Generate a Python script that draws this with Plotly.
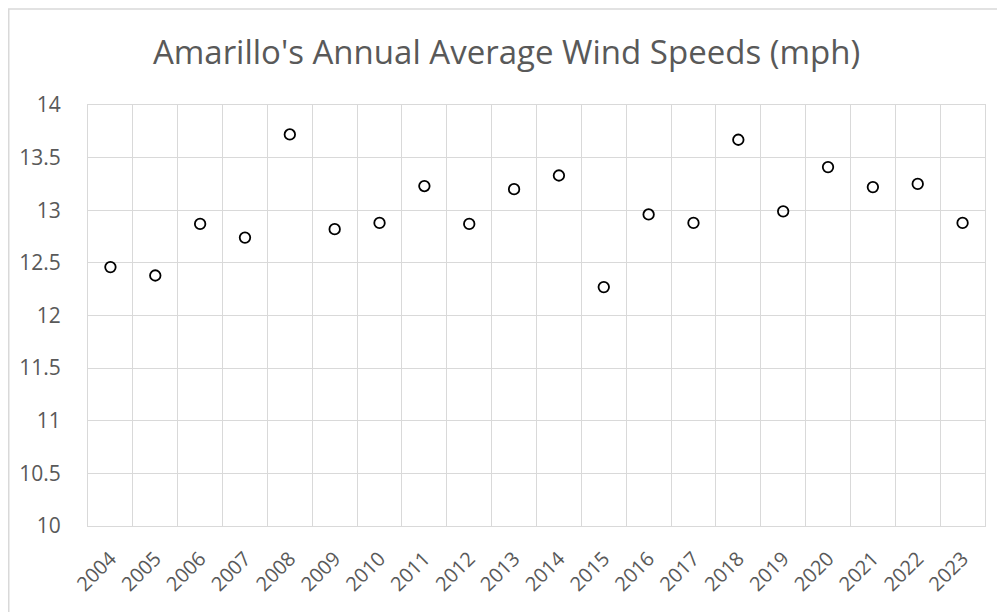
import plotly.graph_objects as go

years = [str(y) for y in range(2004, 2024)]
wind_mph = [12.46, 12.38, 12.87, 12.74, 13.72, 12.82, 12.88, 13.23, 12.87, 13.20,
            13.33, 12.27, 12.96, 12.88, 13.67, 12.99, 13.41, 13.22, 13.25, 12.88]

grid = "#d9d9d9"
text_col = "#595959"
font_fam = "'Open Sans', sans-serif"

# the page body has an 8px margin, so the figure is drawn 8px smaller than the window
W, H = 997, 604
L, T, R, B = 80, 97, 20, 86

fig = go.Figure()
fig.add_scatter(
    x=years,
    y=wind_mph,
    mode="markers",
    marker=dict(symbol="circle-open", size=10.5, color="black", line=dict(width=1.8, color="black")),
    showlegend=False,
)

fig.update_xaxes(
    type="category",
    range=[-0.5, len(years) - 0.5],
    tickson="boundaries",
    showgrid=True, gridcolor=grid, gridwidth=1,
    showline=True, linecolor=grid, linewidth=1, mirror=True,
    ticks="", tickangle=-45, ticklabelstandoff=12,
    tickfont=dict(family=font_fam, size=20, color=text_col),
)
fig.update_yaxes(
    range=[10, 14], dtick=0.5,
    showgrid=True, gridcolor=grid, gridwidth=1,
    showline=True, linecolor=grid, linewidth=1, mirror=True,
    zeroline=False, ticks="", ticklabelstandoff=22,
    tickfont=dict(family=font_fam, size=21, color=text_col),
)

# outer chart border
pw, ph = W - L - R, H - T - B
fig.add_shape(type="rect", xref="paper", yref="paper",
              x0=(0.75 - L) / pw, x1=(W + 10 - L) / pw,
              y0=-(B + 10) / ph, y1=1 + (T - 1) / ph,
              line=dict(color=grid, width=1.5), fillcolor="rgba(0,0,0,0)")

fig.update_layout(
    title=dict(text="Amarillo's Annual Average Wind Speeds (mph)", x=0.5, xanchor="center",
               y=1 - 44 / H, yanchor="middle",
               font=dict(family=font_fam, size=33, color=text_col)),
    width=W, height=H,
    margin=dict(l=L, r=R, t=T, b=B, autoexpand=False),
    plot_bgcolor="white", paper_bgcolor="white",
)

fig.write_html("out.html")
